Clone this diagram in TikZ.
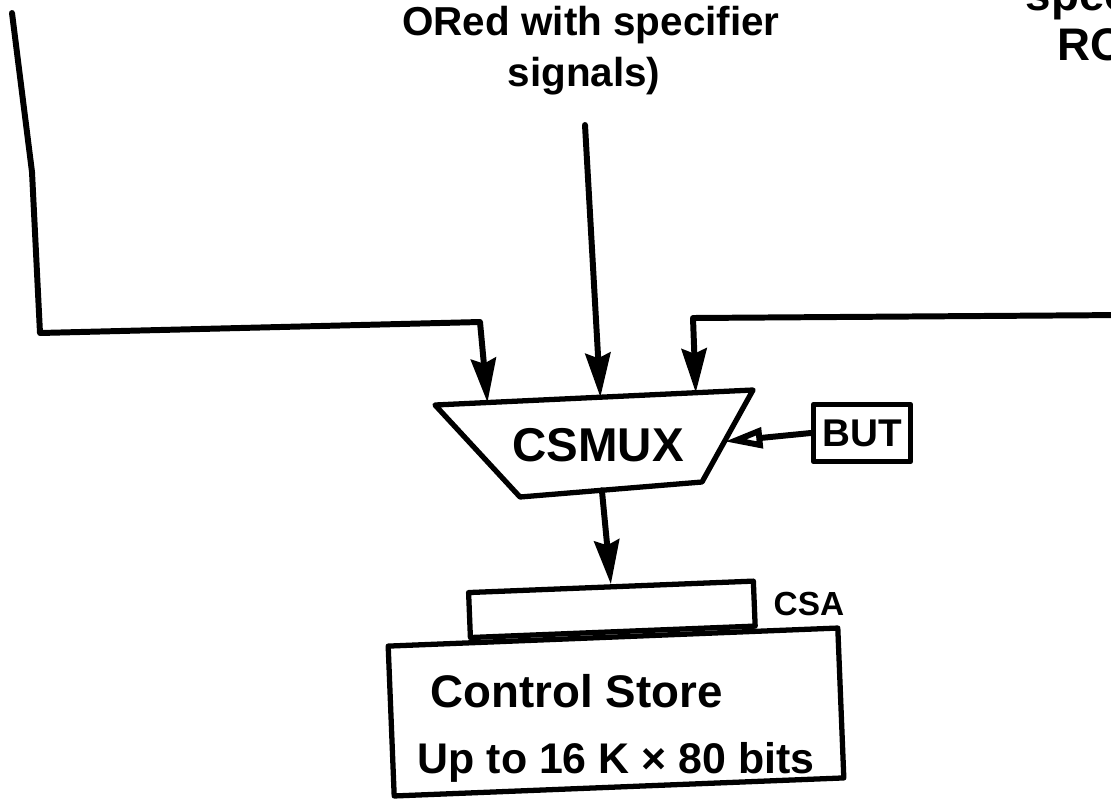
\documentclass[tikz,border=0pt]{standalone}
\usepackage{fontspec}
\setmainfont{Liberation Sans}
\usetikzlibrary{arrows.meta,calc,positioning}
\tikzset{
  wire/.style={line width=1.7pt, line join=round, line cap=round},
  fat/.style={-{Stealth[length=4.4mm,width=2.5mm,inset=0.5mm]}},
  hollow/.style={-{Triangle[open,length=3.8mm,width=2mm]}},
  box/.style={draw, line width=1.5pt, line join=round, inner sep=0pt},
  hand/.style={font=\fontsize{#1}{#1}\selectfont\bfseries, inner sep=0pt}
}

\begin{document}
\begin{tikzpicture}[x=1cm,y=-1cm]
\useasboundingbox (0,0) rectangle (11.11,7.99);
\clip (0,0) rectangle (11.11,7.99);

\node[hand=11.5, anchor=base] (orA) at (5.91,0.35) {ORed with specifier};
\node[hand=11.5, anchor=base] (orB) at (5.84,0.86) {signals)};
\node[hand=13, anchor=base west] (romA) at (10.25,0.10) {specifier};
\node[hand=13, anchor=base west] (romB) at (10.57,0.60) {ROM};

\coordinate (mtl) at (4.35,4.05);
\coordinate (mtr) at (7.53,3.90);
\coordinate (mbr) at (7.02,4.82);
\coordinate (mbl) at (5.20,4.97);
\draw[box] (mtl) -- (mtr) -- (mbr) -- (mbl) -- cycle;
\node[hand=13.5] (csmux) at (5.98,4.45) {CSMUX};
\coordinate (in1) at ($(mtl)!0.165!(mtr)$);
\coordinate (in2) at ($(mtl)!0.52!(mtr)$);
\coordinate (in3) at ($(mtl)!0.82!(mtr)$);
\coordinate (sel) at ($(mtr)!0.56!(mbr)$);
\coordinate (out) at ($(mbl)!0.45!(mbr)$);

\node[box, hand=11, minimum width=0.97cm, minimum height=0.57cm] (but) at (8.62,4.33) {BUT};

\node[box, rotate=2.3, minimum width=4.50cm, minimum height=1.50cm] (store) at (6.16,7.12) {};
\node[box, rotate=2.3, anchor=south, minimum width=2.85cm, minimum height=0.45cm] (csa) at (store.north) {};
\node[hand=9.5, anchor=west] (csalbl) at (7.73,6.04) {CSA};
\node[hand=13, anchor=base west] (cstitle) at (4.30,7.07) {Control Store};
\node[hand=12.2, anchor=base west] (cssize) at (4.17,7.73) {Up to 16 K × 80 bits};

\coordinate (l0) at (0.12,0.13);
\coordinate (l1) at (0.32,1.72);
\coordinate (l2) at (0.40,3.33);
\coordinate (l3) at (4.80,3.22);
\draw[wire,fat] (l0) -- (l1) -- (l2) -- (l3) -- (in1);
\coordinate (m0) at (5.85,1.25);
\draw[wire,fat] (m0) -- (in2);
\coordinate (r0) at (11.25,3.15);
\coordinate (r1) at (6.93,3.18);
\draw[wire,fat] (r0) -- (r1) -- (in3);
\draw[wire,hollow] (but.west) -- (sel);
\draw[wire,fat] (out) -- (csa.north);
\end{tikzpicture}
\end{document}
